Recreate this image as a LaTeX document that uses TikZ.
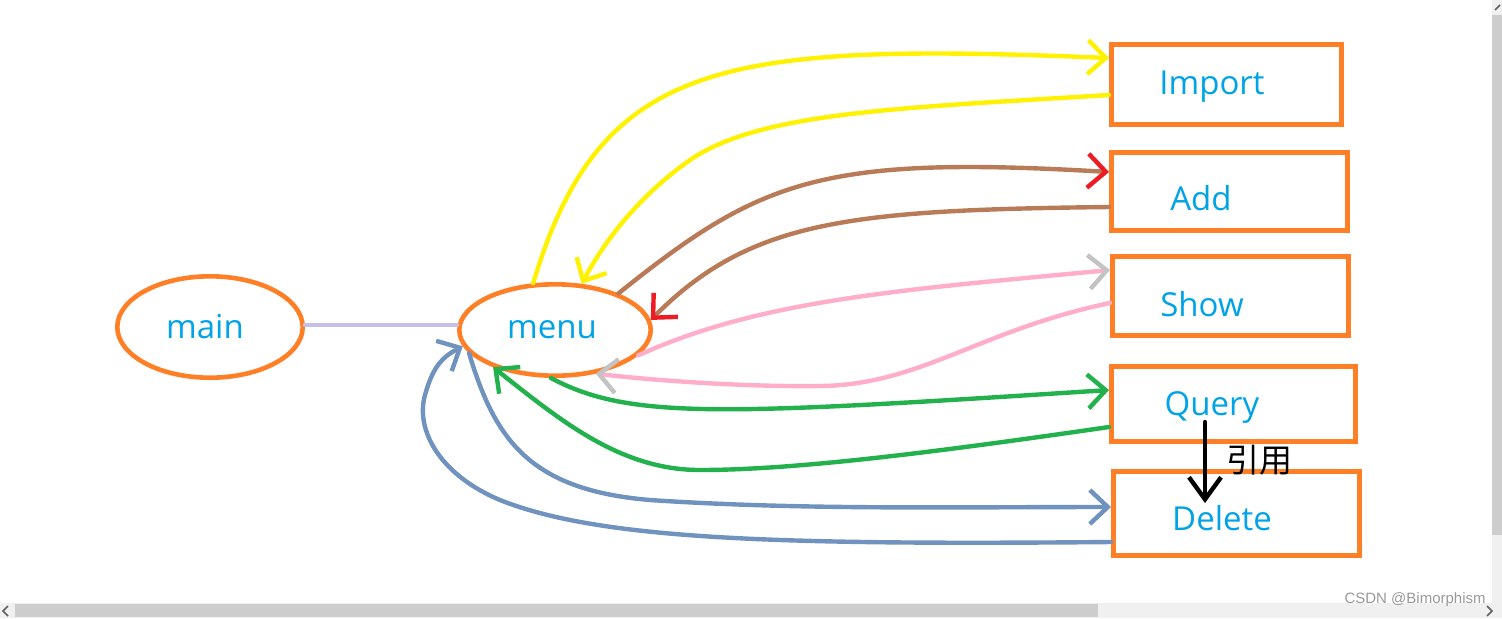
\documentclass[tikz,border=0pt]{standalone}
\usepackage{fontspec}
\setmainfont{Open Sans}
\newfontfamily\cjkfont{Noto Sans CJK SC}
\newfontfamily\wmfont{Liberation Sans}
\usetikzlibrary{shapes.geometric,arrows.meta,calc}
\definecolor{porange}{HTML}{FF7F27}
\definecolor{pblue}{HTML}{00A2E8}
\definecolor{pyellow}{HTML}{FFF200}
\definecolor{pbrown}{HTML}{B97A57}
\definecolor{pred}{HTML}{ED1C24}
\definecolor{ppink}{HTML}{FFAEC9}
\definecolor{pgrey}{HTML}{C3C3C3}
\definecolor{pgreen}{HTML}{22B14C}
\definecolor{psteel}{HTML}{7092BE}
\definecolor{plav}{HTML}{C8BFE7}
\definecolor{sbback}{HTML}{F0F0F0}
\definecolor{sbthumb}{HTML}{CDCDCD}
\definecolor{sbglyph}{HTML}{606060}
\definecolor{wmgrey}{HTML}{9A9A9A}
\tikzset{
  blob/.style={ellipse, draw=porange, line width=2.3pt, inner sep=0pt, text=pblue, font=\fontsize{16.5}{19}\selectfont},
  box/.style={rectangle, draw=porange, line width=2.5pt, inner sep=0pt},
  lbl/.style={text=pblue, font=\fontsize{16.5}{19}\selectfont, inner sep=0pt},
  link/.style={line width=2.2pt, line cap=round},
  arr/.style={-{Straight Barb[length=9pt,width=17pt,#1]}},
  arr/.default={}
}
\begin{document}
\begin{tikzpicture}[x=0.5pt,y=-0.5pt]
\useasboundingbox (0,0) rectangle (1502,618);
% scrollbars
\fill[sbback] (0,603) rectangle (1502,618);
\fill[sbthumb] (15,604) rectangle (1098,617);
\fill[sbback] (1492,0) rectangle (1502,603);
\fill[sbthumb] (1492,15) rectangle (1502,535);
\draw[sbglyph, line width=0.8pt] (8,606) -- (3,611) -- (8,616);
\draw[sbglyph, line width=0.8pt] (1487,606) -- (1492,611) -- (1487,616);
\draw[sbglyph, line width=0.8pt] (1495,10) -- (1500,5);
% nodes
\node[blob, minimum width=92.7pt, minimum height=50.7pt] (main) at (210,327) {\hspace*{-5pt}main};
\node[blob, minimum width=95.7pt, minimum height=45.7pt] (menu) at (555,330) {\hspace*{-3pt}menu};
\node[box, minimum width=115pt, minimum height=40pt] (Import) at (1226.5,84.5) {};
\node[box, minimum width=118pt, minimum height=39pt] (Add) at (1229.5,191.5) {};
\node[box, minimum width=118pt, minimum height=39.5pt] (Show) at (1230.5,296) {};
\node[box, minimum width=122pt, minimum height=37.5pt] (Query) at (1233.5,404) {};
\node[box, minimum width=123pt, minimum height=42pt] (Delete) at (1236.5,513.5) {};
\node[lbl] (tImport) at (1212,87) {Import};
\node[lbl] (tAdd) at (1201,198) {Add};
\node[lbl] (tShow) at (1202,304) {Show};
\node[lbl] (tQuery) at (1212,407) {Query};
\node[lbl] (tDelete) at (1222,518) {Delete};
\node[inner sep=0pt, font=\cjkfont\fontsize{16.5}{19}\selectfont] (yy) at (1259,460) {引用};
% main -> menu
\draw[link, plav] ($(main.east)+(0,-2)$) -- ($(main.east -| menu.west)+(0,-2)$);
% yellow
\draw[link, pyellow, arr] (menu.115) .. controls (600,60) and (720,42) .. ($(Import.west)+(0,-26.5)$);
\draw[link, pyellow, arr] ($(Import.west)+(0,10.5)$) .. controls (900,108) and (760,112) .. (690,160) .. controls (640,195) and (605,240) .. (menu.60);
% brown
\draw[link, pbrown, arr={color=pred}] (menu.30) .. controls (760,180) and (820,155) .. ($(Add.west)+(0,-19.5)$);
\draw[link, pbrown, arr={color=pred}] ($(Add.west)+(0,15.5)$) .. controls (850,210) and (750,220) .. (menu.6);
% pink
\draw[link, ppink, arr={color=pgrey}] (menu.-17) .. controls (760,300) and (900,290) .. ($(Show.west)+(0,-26)$);
\draw[link, ppink, arr={color=pgrey}] ($(Show.west)+(0,7)$) .. controls (980,330) and (920,385) .. (820,386) .. controls (740,387) and (650,380) .. (menu.-47);
% green
\draw[link, pgreen, arr] (menu.-95) .. controls (630,420) and (720,415) .. ($(Query.west)+(0,-14)$);
\draw[link, pgreen, arr] ($(Query.west)+(0,23)$) .. controls (950,450) and (800,470) .. (700,470) .. controls (620,470) and (560,420) .. (menu.211);
% steel blue
\draw[link, psteel, arr] (menu.195) .. controls (495,440) and (530,490) .. (650,500) .. controls (800,510) and (950,507) .. ($(Delete.west)+(0,-6.5)$);
\draw[link, psteel, arr] ($(Delete.west)+(0,28.5)$) .. controls (780,545) and (600,540) .. (500,500) .. controls (440,475) and (415,430) .. (425,395) .. controls (432,370) and (440,358) .. (menu.190);
% reference arrow
\draw[link, black, -{Straight Barb[length=11pt,width=16pt]}] ($(Query.center)+(-28.5,18)$) -- ($(Delete.center)+(-31.5,-10.5)$);
% watermark
\node[anchor=east, inner sep=0pt, text=wmgrey, font=\wmfont\fontsize{7.5}{9}\selectfont] (wm) at (1486,600) {CSDN @Bimorphism};
\end{tikzpicture}
\end{document}
